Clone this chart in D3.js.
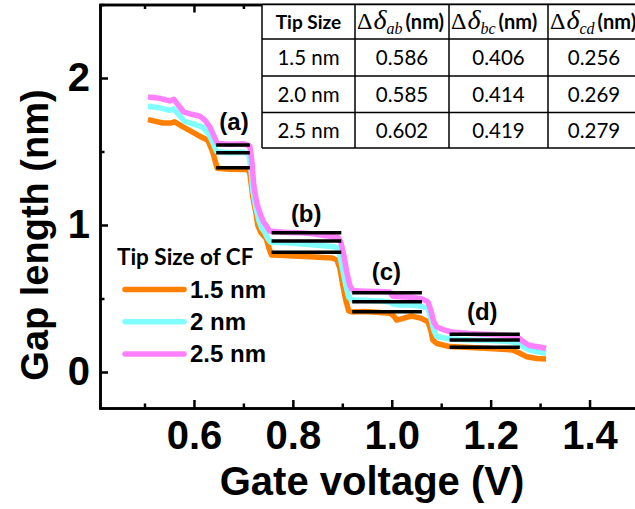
<!DOCTYPE html>
<html>
<head>
<meta charset="utf-8">
<script src="https://cdn.jsdelivr.net/npm/d3@7"></script>
<style>
  body { margin: 0; background: #fff; }
  svg { display: block; }
</style>
</head>
<body>
<div id="graph"></div>
<script>
// [gate voltage (V), gap length (nm)], one list per tip size
const gap15 = [
  [0.507,1.717],[0.537,1.694],[0.554,1.694],[0.561,1.702],[0.578,1.667],[0.608,1.611],
  [0.628,1.577],[0.638,1.497],[0.647,1.386],[0.672,1.380],[0.709,1.377],[0.713,1.352],
  [0.716,1.271],[0.719,1.191],[0.725,1.087],[0.729,0.999],[0.735,0.951],[0.740,0.931],
  [0.746,0.909],[0.753,0.829],[0.757,0.795],[0.783,0.792],[0.813,0.788],[0.844,0.782],
  [0.880,0.775],[0.889,0.761],[0.895,0.707],[0.901,0.591],[0.907,0.489],[0.913,0.415],
  [0.919,0.408],[0.945,0.411],[0.976,0.404],[0.996,0.399],[1.004,0.381],[1.010,0.353],
  [1.023,0.365],[1.040,0.381],[1.060,0.365],[1.073,0.342],[1.079,0.285],[1.083,0.217],
  [1.091,0.194],[1.117,0.173],[1.158,0.166],[1.198,0.160],[1.244,0.150],[1.258,0.129],
  [1.273,0.104],[1.293,0.092],[1.312,0.088]
];
const gap20 = [
  [0.507,1.808],[0.531,1.797],[0.551,1.780],[0.559,1.791],[0.569,1.753],[0.581,1.706],
  [0.601,1.685],[0.618,1.665],[0.630,1.617],[0.638,1.563],[0.646,1.498],[0.672,1.492],
  [0.700,1.495],[0.711,1.485],[0.715,1.386],[0.719,1.237],[0.725,1.121],[0.731,1.033],
  [0.737,0.979],[0.743,0.951],[0.749,0.911],[0.755,0.883],[0.783,0.880],[0.813,0.873],
  [0.844,0.863],[0.874,0.856],[0.889,0.849],[0.895,0.795],[0.901,0.693],[0.907,0.591],
  [0.913,0.510],[0.919,0.489],[0.945,0.486],[0.976,0.483],[0.996,0.476],[1.002,0.462],
  [1.016,0.455],[1.036,0.455],[1.058,0.449],[1.073,0.432],[1.079,0.367],[1.085,0.285],
  [1.091,0.241],[1.107,0.231],[1.121,0.224],[1.158,0.217],[1.198,0.214],[1.238,0.207],
  [1.254,0.197],[1.267,0.170],[1.279,0.150],[1.299,0.136],[1.312,0.127]
];
const gap25 = [
  [0.507,1.871],[0.531,1.862],[0.551,1.844],[0.559,1.855],[0.567,1.821],[0.579,1.769],
  [0.595,1.753],[0.612,1.740],[0.622,1.713],[0.632,1.667],[0.640,1.611],[0.647,1.554],
  [0.672,1.549],[0.702,1.553],[0.713,1.536],[0.717,1.441],[0.721,1.271],[0.727,1.148],
  [0.735,1.067],[0.741,1.019],[0.747,0.992],[0.753,0.958],[0.757,0.958],[0.783,0.951],
  [0.813,0.948],[0.844,0.938],[0.874,0.924],[0.891,0.917],[0.897,0.883],[0.903,0.795],
  [0.909,0.680],[0.915,0.591],[0.921,0.554],[0.945,0.550],[0.976,0.547],[0.996,0.544],
  [1.002,0.516],[1.012,0.513],[1.026,0.510],[1.046,0.506],[1.060,0.499],[1.073,0.478],
  [1.079,0.421],[1.085,0.340],[1.091,0.306],[1.107,0.285],[1.121,0.272],[1.158,0.262],
  [1.198,0.255],[1.238,0.248],[1.254,0.238],[1.267,0.204],[1.279,0.180],[1.299,0.170],
  [1.312,0.160]
];

const tipSizes = ["1.5 nm", "2 nm", "2.5 nm"];
const colors = ["#ff8000", "#80ffff", "#ff80ff"];

// plateaus (a)-(d): voltage span and level for each tip size
const stepNames = ["(a)", "(b)", "(c)", "(d)"];
const stepStart = [0.645, 0.757, 0.920, 1.117];
const stepEnd = [0.713, 0.898, 1.061, 1.259];
const level15 = [1.390, 0.814, 0.410, 0.168];
const level20 = [1.492, 0.891, 0.478, 0.218];
const level25 = [1.544, 0.948, 0.539, 0.256];
const stepLabelAt = [[0.681, 1.645], [0.827, 1.021], [0.989, 0.625], [1.183, 0.353]];

const xTicks = [0.6, 0.8, 1.0, 1.2, 1.4];
const xMinor = [0.5, 0.7, 0.9, 1.1, 1.3];
const yTicks = [0, 1, 2];
const yMinor = [0.5, 1.5];

// inset table
const tableSubs = ["ab", "bc", "cd"];
const tableRows = ["1.5 nm", "2.0 nm", "2.5 nm"];
const dAB = [0.586, 0.585, 0.602];
const dBC = [0.406, 0.414, 0.419];
const dCD = [0.256, 0.269, 0.279];

const W = 635, H = 509;
const margin = { left: 100, top: 4.5, right: 639, bottom: 408 };
const AX = "'Liberation Sans', Arial, sans-serif";
const CAL = "Lato, 'Open Sans', sans-serif";
const SERIF = "'Liberation Serif', 'Times New Roman', serif";

const svg = d3.select("#graph").append("svg")
  .attr("width", W).attr("height", H)
  .style("background", "#fff");

const x = d3.scaleLinear().domain([0.41, 1.5]).range([margin.left, margin.right]);
const y = d3.scaleLinear().domain([-0.245, 2.5]).range([margin.bottom, margin.top]);

/** axes, ticks pointing inward */
const styleAxis = g => {
  g.select(".domain").attr("stroke", "#000").attr("stroke-width", 2.5);
  g.selectAll(".tick line").attr("stroke", "#000").attr("stroke-width", 2.5);
  g.selectAll(".tick text").attr("font-family", AX).attr("font-weight", "bold")
    .attr("font-size", 40).attr("fill", "#000");
};

svg.append("g").attr("transform", `translate(0,${margin.bottom})`)
  .call(d3.axisBottom(x).tickValues(xTicks).tickSizeInner(-8).tickSizeOuter(0)
    .tickPadding(13).tickFormat(d3.format(".1f")))
  .call(styleAxis);
svg.append("g").attr("transform", `translate(0,${margin.bottom})`)
  .call(d3.axisBottom(x).tickValues(xMinor).tickSize(-4.5).tickFormat(""))
  .call(styleAxis);
svg.append("g").attr("transform", `translate(0,${margin.top})`)
  .call(d3.axisTop(x).tickValues(xTicks).tickSizeInner(-8).tickSizeOuter(0).tickFormat(""))
  .call(styleAxis);
svg.append("g").attr("transform", `translate(0,${margin.top})`)
  .call(d3.axisTop(x).tickValues(xMinor).tickSize(-4.5).tickFormat(""))
  .call(styleAxis);

svg.append("g").attr("transform", `translate(${margin.left},0)`)
  .call(d3.axisLeft(y).tickValues(yTicks).tickSizeInner(-8).tickSizeOuter(0)
    .tickPadding(10).tickFormat(d3.format("d")))
  .call(styleAxis);
svg.append("g").attr("transform", `translate(${margin.left},0)`)
  .call(d3.axisLeft(y).tickValues(yMinor).tickSize(-4.5).tickFormat(""))
  .call(styleAxis);

/** axis titles */
svg.append("text")
  .attr("x", 372).attr("y", 495)
  .attr("text-anchor", "middle")
  .attr("font-family", AX).attr("font-weight", "bold").attr("font-size", 40)
  .text("Gate voltage (V)");

svg.append("text")
  .attr("transform", "translate(48,235) rotate(-90)")
  .attr("text-anchor", "middle")
  .attr("font-family", AX).attr("font-weight", "bold").attr("font-size", 38)
  .text("Gap length (nm)");

/** curves */
const line = d3.line().x(d => x(d[0])).y(d => y(d[1]));
[gap15, gap20, gap25].forEach((s, i) => {
  svg.append("path")
    .datum(s)
    .attr("d", line)
    .attr("fill", "none")
    .attr("stroke", colors[i])
    .attr("stroke-width", 5.5)
    .attr("stroke-linejoin", "round");
});

/** plateau markers */
[level15, level20, level25].forEach(lv => {
  svg.selectAll(null)
    .data(lv)
    .join("line")
    .attr("x1", (d, i) => x(stepStart[i]))
    .attr("x2", (d, i) => x(stepEnd[i]))
    .attr("y1", d => y(d))
    .attr("y2", d => y(d))
    .attr("stroke", "#000")
    .attr("stroke-width", 3.5);
});

svg.selectAll(null)
  .data(stepNames)
  .join("text")
  .attr("x", (d, i) => x(stepLabelAt[i][0]))
  .attr("y", (d, i) => y(stepLabelAt[i][1]))
  .attr("text-anchor", "middle")
  .attr("font-family", AX).attr("font-weight", "bold").attr("font-size", 24)
  .text(d => d);

/** legend */
const leg = svg.append("g");
leg.append("text")
  .attr("x", 117).attr("y", 265)
  .attr("font-family", CAL).attr("font-weight", "bold").attr("font-size", 22.5)
  .text("Tip Size of CF");
tipSizes.forEach((t, i) => {
  const ly = 289.5 + i * 32.2;
  leg.append("line")
    .attr("x1", 125).attr("x2", 184).attr("y1", ly).attr("y2", ly)
    .attr("stroke", colors[i]).attr("stroke-width", 5.5).attr("stroke-linecap", "round");
  leg.append("text")
    .attr("x", 190).attr("y", ly + 8)
    .attr("font-family", AX).attr("font-weight", "bold").attr("font-size", 24)
    .text(t);
});

/** inset table */
const colX = [262, 355, 449, 548, 650];
const rowY = [4.5, 39, 76, 112.5, 148];
const tbl = svg.append("g");
tbl.append("rect")
  .attr("x", colX[0]).attr("y", rowY[0])
  .attr("width", colX[4] - colX[0]).attr("height", rowY[4] - rowY[0])
  .attr("fill", "#fff");
colX.forEach(cx => tbl.append("line")
  .attr("x1", cx).attr("x2", cx).attr("y1", rowY[0]).attr("y2", rowY[4])
  .attr("stroke", "#000").attr("stroke-width", 1.5));
rowY.forEach(ry => tbl.append("line")
  .attr("x1", colX[0]).attr("x2", colX[4]).attr("y1", ry).attr("y2", ry)
  .attr("stroke", "#000").attr("stroke-width", 1.5));

tbl.append("text")
  .attr("x", (colX[0] + colX[1]) / 2).attr("y", 29)
  .attr("text-anchor", "middle")
  .attr("font-family", CAL).attr("font-weight", "bold").attr("font-size", 19)
  .text("Tip Size");

tableSubs.forEach((sub, i) => {
  const t = tbl.append("text")
    .attr("x", colX[i + 1] + 2).attr("y", 29);
  t.append("tspan")
    .attr("font-family", SERIF).attr("font-size", 24)
    .text("\u0394");
  t.append("tspan")
    .attr("font-family", SERIF).attr("font-size", 28)
    .attr("font-style", "italic").attr("dx", 1)
    .text("\u03b4");
  t.append("tspan")
    .attr("font-family", SERIF).attr("font-size", 16)
    .attr("font-style", "italic").attr("dy", 5)
    .text(sub);
  t.append("tspan")
    .attr("font-family", CAL).attr("font-weight", "bold").attr("font-size", 20)
    .attr("dy", -5).attr("dx", 3)
    .text("(nm)");
});

const cols = [tableRows, dAB.map(d3.format(".3f")), dBC.map(d3.format(".3f")), dCD.map(d3.format(".3f"))];
cols.forEach((vals, c) => {
  tbl.selectAll(null)
    .data(vals)
    .join("text")
    .attr("x", c === 3 ? 594 : (colX[c] + colX[c + 1]) / 2)
    .attr("y", (d, r) => (rowY[r + 1] + rowY[r + 2]) / 2 + 7.5)
    .attr("text-anchor", "middle")
    .attr("font-family", CAL).attr("font-size", 20.5)
    .text(d => d);
});
</script>
</body>
</html>
